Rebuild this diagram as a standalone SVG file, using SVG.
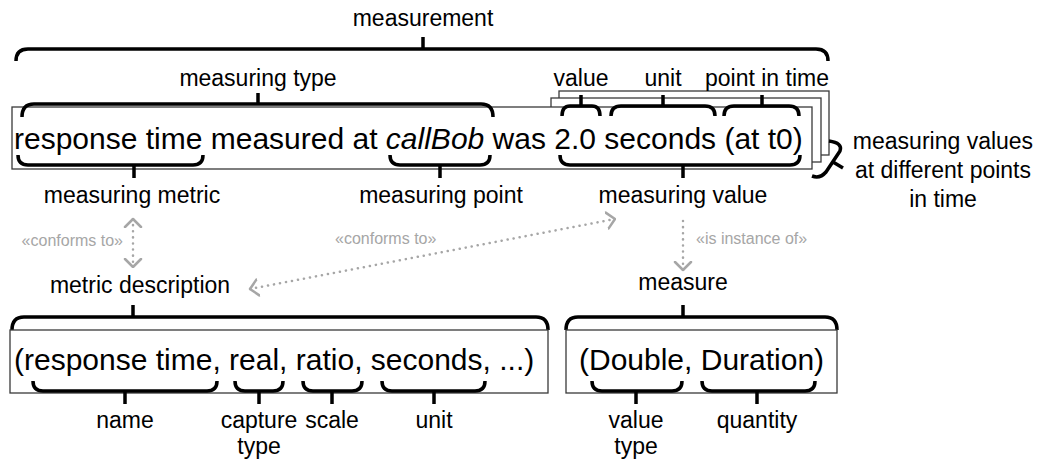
<svg xmlns="http://www.w3.org/2000/svg" width="1040" height="470" viewBox="0 0 1040 470">
<defs>
<style>
text{font-family:"Liberation Sans",Arial,sans-serif;fill:#000}
.lbl{font-size:23px;text-anchor:middle}
.big{font-size:30px}
.note{font-size:16px;fill:#a6a6a6}
.box{fill:#fff;stroke:#3a3a3a;stroke-width:1.3}
.brace{fill:none;stroke:#000;stroke-width:3.5;stroke-linejoin:round}
.dot{fill:none;stroke:#a6a6a6;stroke-width:2.5;stroke-linecap:round;stroke-dasharray:0.1 6}
</style>
<marker id="chev" viewBox="0 0 10 20" refX="9" refY="10" markerWidth="10" markerHeight="20" markerUnits="userSpaceOnUse" orient="auto-start-reverse"><path d="M1,2 L9,10 L1,18" fill="none" stroke="#a6a6a6" stroke-width="2.5" stroke-linecap="round" stroke-linejoin="round"/></marker>
</defs>
<rect width="1040" height="470" fill="#fff"/>

<g id="measurement">
<text class="lbl" x="423" y="26">measurement</text>
<path class="brace" d="M16,61 Q16,49 28,49 L816,49 Q828,49 828,61 M423,49 L423,37"/>
</g>

<g id="measurement-stack">
<rect class="box" x="559" y="91" width="270" height="64"/>
<rect class="box" x="551" y="98" width="270" height="64"/>
<rect class="box" x="12" y="107" width="800" height="62"/>
<text class="big" x="14" y="149">response time measured at <tspan font-style="italic">callBob</tspan> was 2.0 seconds (at t0)</text>
</g>

<g id="measuring-type">
<text class="lbl" x="258" y="86">measuring type</text>
<path class="brace" d="M22,117 Q22,104 34,104 L481,104 Q493,104 493,117 M258,104 L258,93"/>
</g>
<g id="value">
<text class="lbl" x="581" y="86">value</text>
<path class="brace" d="M562,116 Q562,106 570,106 L592,106 Q600,106 600,116 M581,106 L581,95"/>
</g>
<g id="unit">
<text class="lbl" x="663" y="86">unit</text>
<path class="brace" d="M611,116 Q611,106 621,106 L705,106 Q715,106 715,116 M663,106 L663,95"/>
</g>
<g id="point-in-time">
<text class="lbl" x="767" y="86">point in time</text>
<path class="brace" d="M724,116 Q724,106 734,106 L789,106 Q799,106 799,116 M762,106 L762,95"/>
</g>

<g id="measuring-metric">
<path class="brace" d="M18,155 Q18,165 28,165 L193,165 Q203,165 203,155 M134,165 L134,178"/>
<text class="lbl" x="132" y="203">measuring metric</text>
</g>
<g id="measuring-point">
<path class="brace" d="M390,155 Q390,165 400,165 L480,165 Q490,165 490,155 M440,165 L440,178"/>
<text class="lbl" x="441" y="203">measuring point</text>
</g>
<g id="measuring-value">
<path class="brace" d="M560,155 Q560,165 570,165 L790,165 Q800,165 800,155 M683,165 L683,178"/>
<text class="lbl" x="683" y="203">measuring value</text>
</g>

<g id="measuring-values-over-time">
<path class="brace" d="M829,141 Q843,143 840,151 L826,172 Q820,179 812,176 M833,162 L843,168"/>
<text class="lbl" x="943" y="149">measuring values</text>
<text class="lbl" x="943" y="178">at different points</text>
<text class="lbl" x="943" y="207">in time</text>
</g>

<g id="metric-description">
<text class="lbl" x="140" y="293">metric description</text>
<path class="brace" d="M12,330 Q12,317 24,317 L536,317 Q548,317 548,330 M133,317 L133,305"/>
<rect class="box" x="10" y="330" width="538" height="63"/>
<text class="big" x="14" y="370">(response time, real, ratio, seconds, ...)</text>
<path class="brace" d="M33,381 Q33,391 43,391 L207,391 Q217,391 217,381 M125,391 L125,404"/>
<path class="brace" d="M235,381 Q235,391 245,391 L273,391 Q283,391 283,381 M259,391 L259,404"/>
<path class="brace" d="M303,381 Q303,391 313,391 L352,391 Q362,391 362,381 M332,391 L332,404"/>
<path class="brace" d="M382,381 Q382,391 392,391 L475,391 Q485,391 485,381 M434,391 L434,404"/>
<text class="lbl" x="125" y="428">name</text>
<text class="lbl" x="259" y="428">capture</text>
<text class="lbl" x="259" y="454">type</text>
<text class="lbl" x="332" y="428">scale</text>
<text class="lbl" x="434" y="428">unit</text>
</g>

<g id="measure">
<text class="lbl" x="683" y="290">measure</text>
<path class="brace" d="M566,330 Q566,317 578,317 L825,317 Q837,317 837,330 M683,317 L683,305"/>
<rect class="box" x="566" y="330" width="271" height="63"/>
<text class="big" x="579" y="370">(Double, Duration)</text>
<path class="brace" d="M592,381 Q592,391 602,391 L672,391 Q682,391 682,381 M636,391 L636,404"/>
<path class="brace" d="M702,381 Q702,391 712,391 L805,391 Q815,391 815,381 M757,391 L757,404"/>
<text class="lbl" x="636" y="428">value</text>
<text class="lbl" x="636" y="454">type</text>
<text class="lbl" x="757" y="428">quantity</text>
</g>

<g id="connectors">
<path class="dot" d="M133,219 L133,267" marker-start="url(#chev)" marker-end="url(#chev)"/>
<path class="dot" d="M250,289 L615,219" marker-start="url(#chev)" marker-end="url(#chev)"/>
<path class="dot" d="M683,221 L683,270" marker-end="url(#chev)"/>
<text class="note" x="123" y="246" text-anchor="end">«conforms to»</text>
<text class="note" x="335" y="244">«conforms to»</text>
<text class="note" x="696" y="244">«is instance of»</text>
</g>
</svg>
